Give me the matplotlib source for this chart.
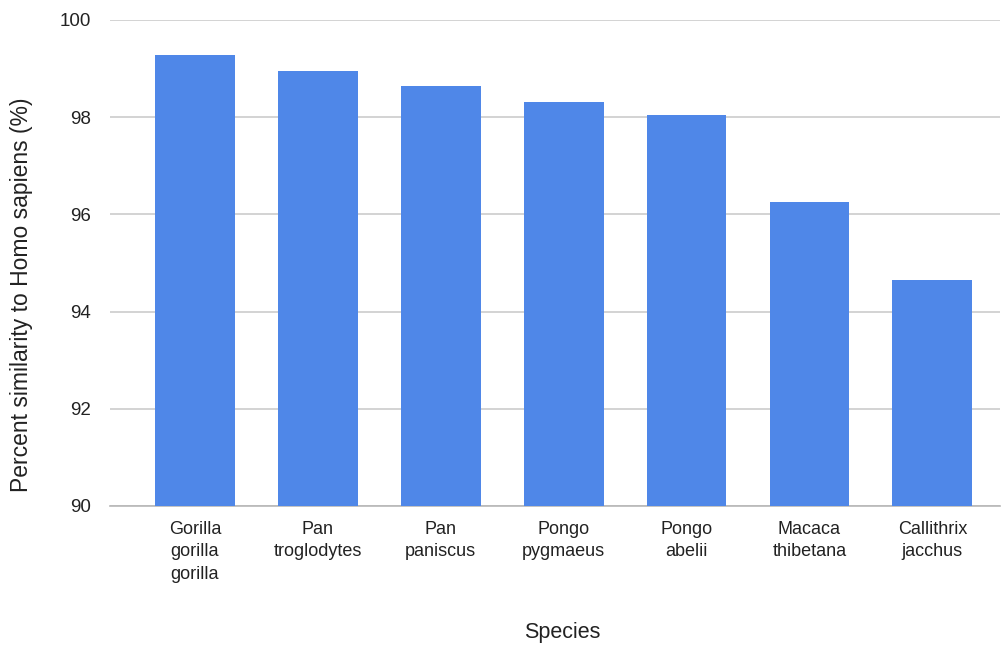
import matplotlib
matplotlib.use('Agg')
import matplotlib.pyplot as plt

plt.rcParams['font.family'] = ['Liberation Sans', 'DejaVu Sans']

# 종 이름과 인간과의 유사도(%)
species = ['Gorilla\ngorilla\ngorilla', 'Pan\ntroglodytes', 'Pan\npaniscus',
           'Pongo\npygmaeus', 'Pongo\nabelii', 'Macaca\nthibetana',
           'Callithrix\njacchus']
similarity = [99.27, 98.95, 98.64, 98.32, 98.05, 96.25, 94.65]
y_ticks = [90, 92, 94, 96, 98, 100]

BAR_COLOR = '#4F87E8'
GRID_COLOR = '#CCCCCC'
TEXT_COLOR = '#222222'

W, H = 1002, 645
fig = plt.figure(figsize=(W / 100, H / 100), dpi=100)
ax = fig.add_axes([110 / W, 1 - 506 / H, 890 / W, 486 / H])

x = list(range(len(species)))
ax.bar(x, similarity, width=0.65, bottom=0, color=BAR_COLOR, zorder=3)

ax.set_ylim(90, 100)
ax.set_xlim(-0.69, 6.55)
ax.set_yticks(y_ticks)
ax.set_yticklabels([str(t) for t in y_ticks], fontsize=13.5, color=TEXT_COLOR)
ax.set_xticks(x)
ax.set_xticklabels(species, fontsize=13, color=TEXT_COLOR, linespacing=1.4,
                   va='top')

ax.tick_params(axis='y', length=0, pad=14)
ax.tick_params(axis='x', length=0, pad=11)

ax.yaxis.grid(True, color=GRID_COLOR, linewidth=1.2, zorder=0)
ax.xaxis.grid(False)
ax.set_axisbelow(True)

for spine in ['top', 'right', 'left']:
    ax.spines[spine].set_visible(False)
ax.spines['bottom'].set_color('#B7B7B7')
ax.spines['bottom'].set_linewidth(1.2)

# 축 제목
fig.text(562 / W, 1 - 638 / H, 'Species', fontsize=15.5, color=TEXT_COLOR,
         ha='center', va='baseline')
fig.text(22 / W, 1 - 295 / H, 'Percent similarity to Homo sapiens (%)',
         fontsize=16.5, color=TEXT_COLOR, rotation=90,
         ha='center', va='center')

fig.savefig('out.png', dpi=100, facecolor='white')
